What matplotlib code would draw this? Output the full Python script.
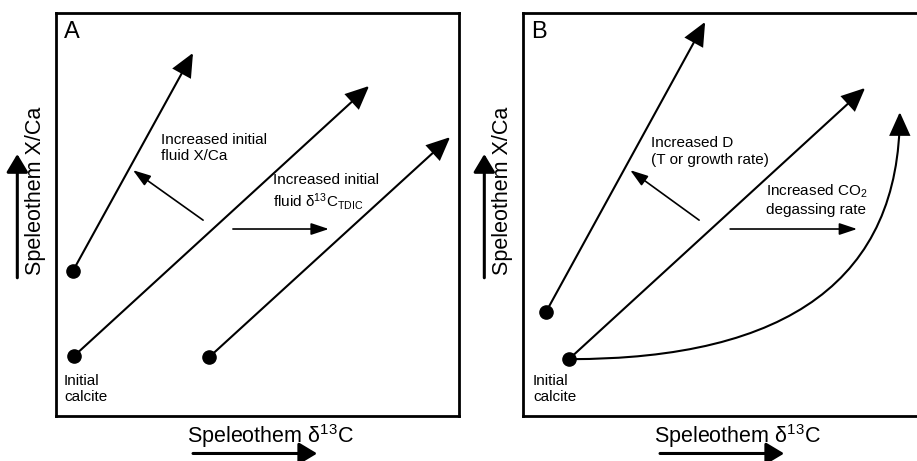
import matplotlib
matplotlib.use("Agg")
import matplotlib.pyplot as plt
from matplotlib.patches import FancyArrowPatch
from matplotlib.path import Path

plt.rcParams['font.family'] = ['Liberation Sans', 'DejaVu Sans']
plt.rcParams['mathtext.fontset'] = 'custom'
plt.rcParams['mathtext.rm'] = 'Liberation Sans'
plt.rcParams['mathtext.it'] = 'Liberation Sans:italic'
plt.rcParams['mathtext.default'] = 'regular'

# panel A: three straight trajectories (start dot -> arrow tip)
a_start_x = [4.2, 4.5, 38.0]
a_start_y = [36.0, 14.9, 14.6]
a_end_x = [34.0, 77.7, 97.8]
a_end_y = [90.1, 81.9, 69.2]
# panel A: small direction arrows
a_small_from = [(36.5, 48.6), (43.9, 46.4)]
a_small_to = [(19.1, 61.0), (67.7, 46.4)]

# panel B: two straight trajectories
b_start_x = [5.7, 11.4]
b_start_y = [25.8, 14.1]
b_end_x = [45.2, 84.9]
b_end_y = [97.8, 81.4]
# panel B: curved trajectory (quadratic bezier: start, control, end)
b_curve_x = [11.4, 93.5, 93.5]
b_curve_y = [14.1, 14.0, 75.4]
b_small_from = [(43.7, 48.6), (51.4, 46.4)]
b_small_to = [(26.6, 61.0), (82.9, 46.4)]

xlabel = r'Speleothem δ$^{13}$C'
ylabel = 'Speleothem X/Ca'

big_head = dict(arrowstyle='-|>,head_length=1.0,head_width=0.45',
                mutation_scale=14.5, lw=1.5, color='black',
                shrinkA=0, shrinkB=0, joinstyle='miter')
small_head = dict(arrowstyle='-|>,head_length=0.9,head_width=0.3',
                  mutation_scale=12, lw=1.2, color='black',
                  shrinkA=0, shrinkB=0)
axis_head = dict(arrowstyle='-|>,head_length=1.0,head_width=0.6',
                 mutation_scale=11, lw=2.2, color='black',
                 shrinkA=0, shrinkB=0)


def setup_panel(ax, letter):
    ax.set_xlim(0, 100)
    ax.set_ylim(0, 100)
    ax.set_xticks([])
    ax.set_yticks([])
    for s in ax.spines.values():
        s.set_linewidth(2.0)
    ax.text(1.9, 98.0, letter, fontsize=17, ha='left', va='top')
    ax.text(-5.0, 55.8, ylabel, rotation=90, fontsize=15.5,
            ha='center', va='center')
    ax.text(53.2, -6.7, xlabel, fontsize=15.5, ha='center', va='baseline')
    # axis direction arrows outside the box
    ax.add_patch(FancyArrowPatch((-9.6, 34.3), (-9.6, 65.0), clip_on=False,
                                 **axis_head))
    ax.add_patch(FancyArrowPatch((34.0, -9.3), (64.8, -9.3), clip_on=False,
                                 **axis_head))


fig = plt.figure(figsize=(9.17, 4.61), dpi=100)
axA = fig.add_axes([56 / 917, 45 / 461, 403 / 917, 403 / 461])
axB = fig.add_axes([523 / 917, 45 / 461, 403 / 917, 403 / 461])

# ---- panel A
setup_panel(axA, 'A')
for x0, y0, x1, y1 in zip(a_start_x, a_start_y, a_end_x, a_end_y):
    axA.add_patch(FancyArrowPatch((x0, y0), (x1, y1), **big_head))
axA.plot(a_start_x, a_start_y, 'o', color='black', ms=9.5, zorder=5)
for p0, p1 in zip(a_small_from, a_small_to):
    axA.add_patch(FancyArrowPatch(p0, p1, **small_head))
axA.text(26.1, 70.2, 'Increased initial\nfluid X/Ca', fontsize=11,
         ha='left', va='top')
axA.text(53.8, 60.2, 'Increased initial\nfluid δ$^{13}$C$_{TDIC}$',
         fontsize=11, ha='left', va='top')
axA.text(2.0, 10.4, 'Initial\ncalcite', fontsize=11, ha='left', va='top')

# ---- panel B
setup_panel(axB, 'B')
for x0, y0, x1, y1 in zip(b_start_x, b_start_y, b_end_x, b_end_y):
    axB.add_patch(FancyArrowPatch((x0, y0), (x1, y1), **big_head))
curve = Path(list(zip(b_curve_x, b_curve_y)),
             [Path.MOVETO, Path.CURVE3, Path.CURVE3])
axB.add_patch(FancyArrowPatch(path=curve, **{k: v for k, v in big_head.items()
                                             if k not in ('shrinkA', 'shrinkB')}))
axB.plot(b_start_x, b_start_y, 'o', color='black', ms=9.5, zorder=5)
for p0, p1 in zip(b_small_from, b_small_to):
    axB.add_patch(FancyArrowPatch(p0, p1, **small_head))
axB.text(31.8, 69.4, 'Increased D\n(T or growth rate)', fontsize=11,
         ha='left', va='top')
axB.text(60.3, 57.8, 'Increased CO$_2$\ndegassing rate', fontsize=11,
         ha='left', va='top')
axB.text(2.5, 10.4, 'Initial\ncalcite', fontsize=11, ha='left', va='top')

fig.savefig('out.png', dpi=100)
